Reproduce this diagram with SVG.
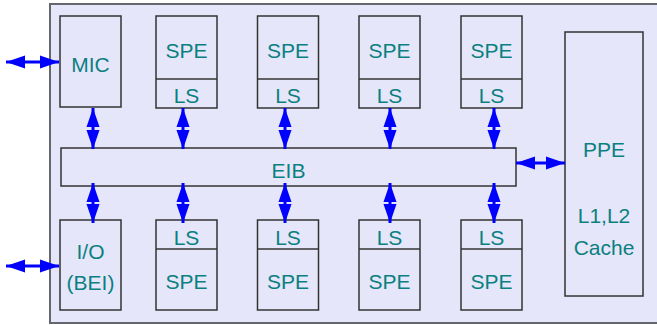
<svg xmlns="http://www.w3.org/2000/svg" width="657" height="325" viewBox="0 0 657 325">
  <style>
    .frame { fill: #e6e6fa; stroke: #66666e; stroke-width: 2; }
    .box { fill: #e6e6fa; stroke: #333; stroke-width: 1.5; }
    .sep { stroke: #333; stroke-width: 1.5; }
    .lbl { font-family: "Liberation Sans", Arial, sans-serif; font-size: 21px; fill: #0a8080; text-anchor: middle; }
    .link { stroke: #0000ff; stroke-width: 3; fill: none; marker-start: url(#head); marker-end: url(#head); }
  </style>
  <defs>
    <marker id="head" markerUnits="userSpaceOnUse" markerWidth="19" markerHeight="14" refX="19" refY="7" orient="auto-start-reverse">
      <path d="M0,0.5 L19,7 L0,13.5 z" fill="#0000ff"/>
    </marker>
  </defs>

  <rect class="frame" x="50" y="4" width="612" height="319"/>

  <g id="mic">
    <rect class="box" x="60" y="16" width="61" height="91"/>
    <text class="lbl" x="90.5" y="72">MIC</text>
  </g>

  <g id="spe-top-1">
    <rect class="box" x="156" y="16" width="61" height="92"/>
    <line class="sep" x1="156" y1="79" x2="217" y2="79"/>
    <text class="lbl" x="186.5" y="57.5">SPE</text>
    <text class="lbl" x="186.5" y="103">LS</text>
  </g>
  <g id="spe-top-2">
    <rect class="box" x="257.5" y="16" width="61" height="92"/>
    <line class="sep" x1="257.5" y1="79" x2="318.5" y2="79"/>
    <text class="lbl" x="288" y="57.5">SPE</text>
    <text class="lbl" x="288" y="103">LS</text>
  </g>
  <g id="spe-top-3">
    <rect class="box" x="359" y="16" width="61" height="92"/>
    <line class="sep" x1="359" y1="79" x2="420" y2="79"/>
    <text class="lbl" x="389.5" y="57.5">SPE</text>
    <text class="lbl" x="389.5" y="103">LS</text>
  </g>
  <g id="spe-top-4">
    <rect class="box" x="461" y="16" width="61" height="92"/>
    <line class="sep" x1="461" y1="79" x2="522" y2="79"/>
    <text class="lbl" x="491.5" y="57.5">SPE</text>
    <text class="lbl" x="491.5" y="103">LS</text>
  </g>

  <g id="eib">
    <rect class="box" x="61" y="148" width="455" height="38"/>
    <text class="lbl" x="288.5" y="178">EIB</text>
  </g>

  <g id="io">
    <rect class="box" x="60" y="220" width="61" height="90"/>
    <text class="lbl" x="90.5" y="259">I/O</text>
    <text class="lbl" x="90.5" y="290">(BEI)</text>
  </g>

  <g id="spe-bottom-1">
    <rect class="box" x="156" y="220" width="61" height="90"/>
    <line class="sep" x1="156" y1="249" x2="217" y2="249"/>
    <text class="lbl" x="186.5" y="245">LS</text>
    <text class="lbl" x="186.5" y="289">SPE</text>
  </g>
  <g id="spe-bottom-2">
    <rect class="box" x="257.5" y="220" width="61" height="90"/>
    <line class="sep" x1="257.5" y1="249" x2="318.5" y2="249"/>
    <text class="lbl" x="288" y="245">LS</text>
    <text class="lbl" x="288" y="289">SPE</text>
  </g>
  <g id="spe-bottom-3">
    <rect class="box" x="359" y="220" width="61" height="90"/>
    <line class="sep" x1="359" y1="249" x2="420" y2="249"/>
    <text class="lbl" x="389.5" y="245">LS</text>
    <text class="lbl" x="389.5" y="289">SPE</text>
  </g>
  <g id="spe-bottom-4">
    <rect class="box" x="461" y="220" width="61" height="90"/>
    <line class="sep" x1="461" y1="249" x2="522" y2="249"/>
    <text class="lbl" x="491.5" y="245">LS</text>
    <text class="lbl" x="491.5" y="289">SPE</text>
  </g>

  <g id="ppe">
    <rect class="box" x="565" y="32" width="78" height="264"/>
    <text class="lbl" x="604" y="157">PPE</text>
    <text class="lbl" x="604" y="223">L1,L2</text>
    <text class="lbl" x="604" y="255">Cache</text>
  </g>

  <g id="connectors">
    <line class="link" x1="6" y1="62" x2="59" y2="62"/>
    <line class="link" x1="6" y1="266" x2="59" y2="266"/>
    <line class="link" x1="516" y1="163" x2="565" y2="163"/>

    <line class="link" x1="93" y1="108" x2="93" y2="149"/>
    <line class="link" x1="183" y1="108" x2="183" y2="149"/>
    <line class="link" x1="285" y1="108" x2="285" y2="149"/>
    <line class="link" x1="390" y1="108" x2="390" y2="149"/>
    <line class="link" x1="494" y1="108" x2="494" y2="149"/>

    <line class="link" x1="93" y1="183" x2="93" y2="223"/>
    <line class="link" x1="183" y1="183" x2="183" y2="223"/>
    <line class="link" x1="285" y1="183" x2="285" y2="223"/>
    <line class="link" x1="390" y1="183" x2="390" y2="223"/>
    <line class="link" x1="494" y1="183" x2="494" y2="223"/>
  </g>
</svg>
